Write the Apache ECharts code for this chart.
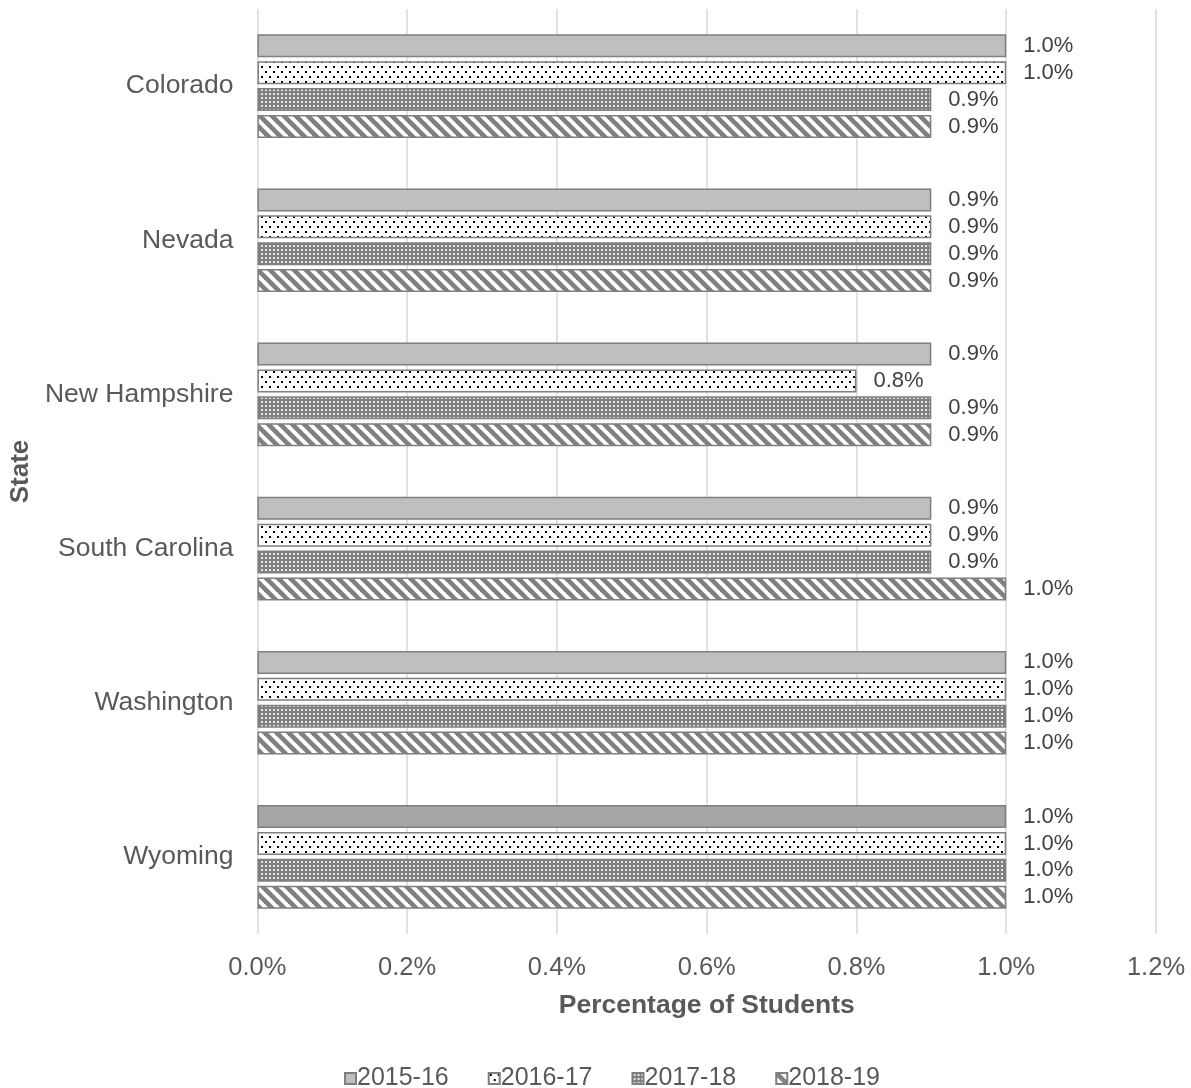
<!DOCTYPE html>
<html>
<head>
<meta charset="utf-8">
<script src="https://cdn.jsdelivr.net/npm/echarts@6/dist/echarts.min.js"></script>
<style>
  html, body { margin: 0; padding: 0; background: #fff; }
  #chart { width: 1191px; height: 1088px; }
</style>
</head>
<body>
<div id="chart"></div>
<script>
// States shown top to bottom
const states = ['Colorado', 'Nevada', 'New Hampshire', 'South Carolina', 'Washington', 'Wyoming'];
const years = ['2015-16', '2016-17', '2017-18', '2018-19'];

// Percentage of students, per school year (one value per state)
const y2015 = [1.0, 0.9, 0.9, 0.9, 1.0, 1.0];
const y2016 = [1.0, 0.9, 0.8, 0.9, 1.0, 1.0];
const y2017 = [0.9, 0.9, 0.9, 0.9, 1.0, 1.0];
const y2018 = [0.9, 0.9, 0.9, 1.0, 1.0, 1.0];

const xTicks = [0, 0.2, 0.4, 0.6, 0.8, 1.0, 1.2];

const FONT = '"Liberation Sans", Arial, sans-serif';
const TEXT = '#595959';
const EDGE = '#7f7f7f';

function makeTile(w, h, draw) {
  const c = document.createElement('canvas');
  c.width = w; c.height = h;
  draw(c.getContext('2d'), w, h);
  return { image: c, repeat: 'repeat' };
}

// Sparse dot pattern on white
const dots = makeTile(8, 10, (g, w, h) => {
  g.fillStyle = '#ffffff'; g.fillRect(0, 0, w, h);
  g.fillStyle = '#000000';
  g.fillRect(1, 1, 2, 2);
  g.fillRect(5, 6, 2, 2);
});

// Small grid: gray with little white squares
const grid = makeTile(4, 4, (g, w, h) => {
  g.fillStyle = '#808080'; g.fillRect(0, 0, w, h);
  g.fillStyle = '#e6e6e6';
  g.fillRect(1, 1, 2, 2);
});

// Wide downward diagonal stripes
const stripes = makeTile(12, 12, (g, w, h) => {
  g.fillStyle = '#ffffff'; g.fillRect(0, 0, w, h);
  g.strokeStyle = '#808080';
  g.lineWidth = 4.6;
  for (const o of [-12, 0, 12]) {
    g.beginPath();
    g.moveTo(o - 2, -2);
    g.lineTo(o + 14, 14);
    g.stroke();
  }
});

const fills = ['#bfbfbf', dots, grid, stripes];
const seriesData = [y2015, y2016, y2017, y2018];

function pct(v) { return v.toFixed(1) + '%'; }

const series = years.map((name, i) => ({
  name: name,
  type: 'bar',
  barWidth: 23,
  barGap: '17%',
  itemStyle: { color: fills[i], borderColor: EDGE, borderWidth: 1.5 },
  label: {
    show: true,
    position: 'right',
    distance: 17,
    color: '#404040',
    fontFamily: FONT,
    fontSize: 22,
    formatter: p => pct(p.value)
  },
  data: seriesData[i].map((v, k) => {
    // Wyoming's first-year bar is shaded darker
    if (i === 0 && states[k] === 'Wyoming') {
      return { value: v, itemStyle: { color: '#a6a6a6' } };
    }
    return v;
  })
}));

const chart = echarts.init(document.getElementById('chart'), null, { renderer: 'canvas' });
chart.setOption({
  animation: false,
  backgroundColor: '#ffffff',
  textStyle: { fontFamily: FONT },
  grid: { left: 255, right: 35, top: 9, bottom: 154, containLabel: false },
  legend: {
    top: 1061,
    left: 339,
    itemWidth: 11,
    itemHeight: 11,
    itemGap: 39,
    icon: 'rect',
    textStyle: { color: TEXT, fontSize: 25, fontFamily: FONT, padding: [0, 0, 0, -4] },
    data: years
  },
  xAxis: {
    type: 'value',
    min: 0,
    max: 1.2,
    interval: 0.2,
    name: 'Percentage of Students',
    nameLocation: 'middle',
    nameGap: 58,
    nameTextStyle: { color: TEXT, fontSize: 26.5, fontWeight: 'bold', fontFamily: FONT },
    axisLine: { show: false },
    axisTick: { show: false },
    axisLabel: {
      color: TEXT, fontSize: 25.5, fontFamily: FONT, margin: 21,
      formatter: v => {
        const t = xTicks.find(x => Math.abs(x - v) < 1e-9);
        return pct(t === undefined ? v : t);
      }
    },
    splitLine: { show: true, lineStyle: { color: '#d9d9d9', width: 1.5 } }
  },
  yAxis: {
    type: 'category',
    data: states,
    inverse: true,
    name: 'State',
    nameLocation: 'middle',
    nameGap: 222,
    nameTextStyle: { color: TEXT, fontSize: 26, fontWeight: 'bold', fontFamily: FONT },
    axisLine: { show: false },
    axisTick: { show: false },
    axisLabel: { color: TEXT, fontSize: 26.5, fontFamily: FONT, margin: 24 }
  },
  series: series
});
</script>
</body>
</html>
